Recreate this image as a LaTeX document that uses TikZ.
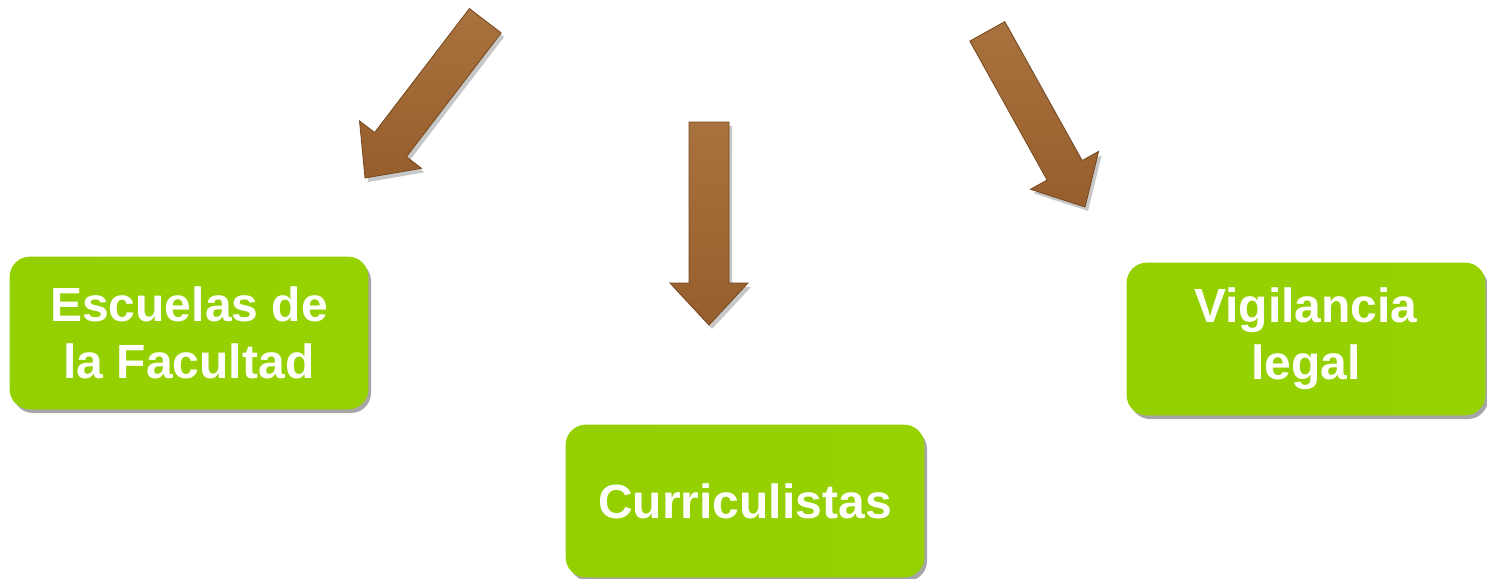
\documentclass[tikz,border=0pt]{standalone}
\usepackage{fontspec}
\setmainfont{Liberation Sans}
\usetikzlibrary{shadows}
\definecolor{gdark}{RGB}{148,208,0}
\definecolor{glight}{RGB}{162,228,0}
\definecolor{gmid}{RGB}{150,210,0}
\definecolor{bline}{RGB}{118,72,30}
\definecolor{blight}{RGB}{168,114,62}
\definecolor{bdark}{RGB}{150,94,44}
\tikzset{
  greenbox/.style={rounded corners=20pt, minimum width=358pt, minimum height=152pt,
    inner sep=0pt, align=center, text=white,
    font=\bfseries\fontsize{48}{57}\selectfont,
    left color=gdark, middle color=glight, right color=gmid,
    draw=gmid, line width=0.8pt,
    drop shadow={shadow xshift=3pt, shadow yshift=-4pt, opacity=0.35, fill=black}},
  arrowbody/.style={top color=blight, bottom color=bdark, draw=bline, line width=0.8pt, line join=miter},
  arrowshadow/.style={fill=black, opacity=0.22}
}
% #1 tip, #2 angle, #3 length
\newcommand\brownarrow[3]{%
  \begin{scope}[shift={#1}, xshift=3pt, yshift=-4pt, rotate=#2]
    \path[arrowshadow] (0,0) -- (-42,39) -- (-42,20) -- (-#3,20) -- (-#3,-20) -- (-42,-20) -- (-42,-39) -- cycle;
  \end{scope}
  \begin{scope}[shift={#1}, rotate=#2]
    \path[arrowbody] (0,0) -- (-42,39) -- (-42,20) -- (-#3,20) -- (-#3,-20) -- (-42,-20) -- (-42,-39) -- cycle;
  \end{scope}}
\begin{document}
\begin{tikzpicture}[x=1pt, y=1pt]
\useasboundingbox (0,0) rectangle (1487,-578);
\fill[white] (0,0) rectangle (1487,-578);
\brownarrow{(365,-178)}{232.6}{198}
\brownarrow{(709,-325)}{-90}{203}
\brownarrow{(1085,-207)}{-60.9}{201}
\node[greenbox] (esc) at (189,-333) {Escuelas de\\la Facultad};
\node[greenbox] (cur) at (745,-501) {Curriculistas};
\node[greenbox] (vig) at (1306,-339) {Vigilancia\\legal};
\end{tikzpicture}
\end{document}
